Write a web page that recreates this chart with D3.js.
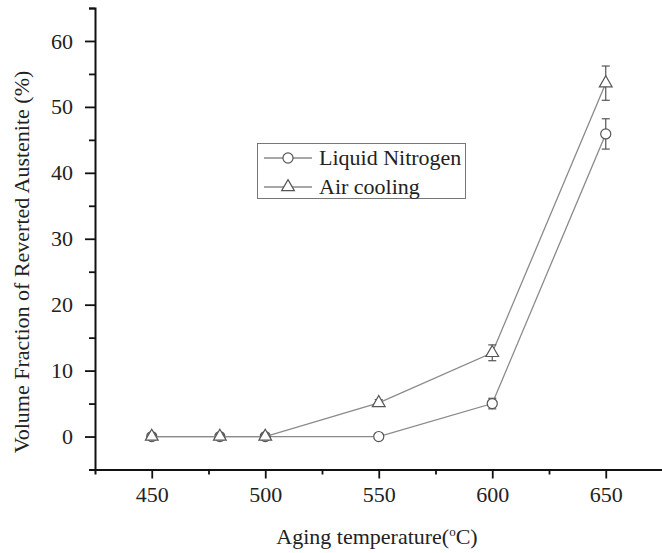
<!DOCTYPE html>
<html>
<head>
<meta charset="utf-8">
<script src="https://cdn.jsdelivr.net/npm/d3@7"></script>
<style>
  body { margin: 0; background: #fff; }
  svg text { font-family: 'Liberation Serif', 'Times New Roman', Times, 'DejaVu Serif', serif !important; }
</style>
</head>
<body>
<div class="chart"></div>
<script>
const temps = [450, 480, 500, 550, 600, 650];
const liquidNitrogen = [0, 0, 0, 0, 5, 45.9];
const liquidErr = [0.3, 0.3, 0.3, 0.3, 0.8, 2.3];
const airCooling = [0, 0, 0, 5.1, 12.7, 53.6];
const airErr = [0.3, 0.3, 0.3, 0.5, 1.2, 2.6];
const xTicks = [450, 500, 550, 600, 650];
const yTicks = [0, 10, 20, 30, 40, 50, 60];
const seriesNames = ['Liquid Nitrogen', 'Air cooling'];

const width = 662, height = 553;
const lineColor = '#8a8a8a', markColor = '#555';

const svg = d3.select('.chart').append('svg')
    .attr('width', width)
    .attr('height', height);

const x = d3.scaleLinear().domain([425, 675]).range([95, 662.5]);
const y = d3.scaleLinear().domain([-5, 65]).range([469.5, 8]);

// axes: minor ticks first, then major ticks with labels
const xAxis = svg.append('g').attr('transform', `translate(0, ${y(-5)})`);
xAxis.call(d3.axisBottom(x).tickValues(d3.range(475, 676, 50)).tickSize(5).tickFormat(''));
xAxis.append('g').call(d3.axisBottom(x).tickValues(xTicks).tickSize(9).tickPadding(8));
const yAxis = svg.append('g').attr('transform', `translate(${x(425)}, 0)`);
yAxis.call(d3.axisLeft(y).tickValues(d3.range(-5, 66, 10)).tickSize(6).tickFormat(''));
yAxis.append('g').call(d3.axisLeft(y).tickValues(yTicks).tickSize(10).tickPadding(12));

svg.selectAll('.domain').attr('stroke', '#111').attr('stroke-width', 2);
svg.selectAll('.tick line').attr('stroke', '#111').attr('stroke-width', 1.8);
svg.selectAll('.tick text')
    .attr('font-size', '22px')
    .attr('fill', '#222');
xAxis.selectAll('g > g .domain').remove();
yAxis.selectAll('g > g .domain').remove();

// titles
svg.append('text')
    .attr('x', 377).attr('y', 544)
    .attr('text-anchor', 'middle')
    .attr('font-size', '22px').attr('fill', '#222')
    .html('Aging temperature(<tspan dy="-8" font-size="13px">o</tspan><tspan dy="8">C)</tspan>');
svg.append('text')
    .attr('transform', `translate(29, ${262}) rotate(-90)`)
    .attr('text-anchor', 'middle')
    .attr('font-size', '22px').attr('fill', '#222')
    .text('Volume Fraction of Reverted Austenite (%)');

const line = d3.line().x(d => x(d[0])).y(d => y(d[1]));

const drawSeries = (vals, errs, shape) => {
    const pts = temps.map((t, i) => [t, vals[i], errs[i]]);
    svg.append('path').datum(pts)
        .attr('d', line)
        .attr('fill', 'none')
        .attr('stroke', lineColor)
        .attr('stroke-width', 1.3);
    // error bars
    const eb = svg.append('g').attr('stroke', markColor).attr('stroke-width', 1.2);
    pts.forEach(p => {
        eb.append('line').attr('x1', x(p[0])).attr('x2', x(p[0]))
            .attr('y1', y(p[1] - p[2])).attr('y2', y(p[1] + p[2]));
        [p[1] - p[2], p[1] + p[2]].forEach(v => {
            eb.append('line').attr('x1', x(p[0]) - 4).attr('x2', x(p[0]) + 4)
                .attr('y1', y(v)).attr('y2', y(v));
        });
    });
    svg.append('g').selectAll('path').data(pts).join('path')
        .attr('transform', d => `translate(${x(d[0])}, ${y(d[1])})`)
        .attr('d', d3.symbol().type(shape).size(shape === d3.symbolCircle ? 80 : 70))
        .attr('fill', '#fff')
        .attr('stroke', markColor)
        .attr('stroke-width', 1.2);
};

drawSeries(liquidNitrogen, liquidErr, d3.symbolCircle);
drawSeries(airCooling, airErr, d3.symbolTriangle);

// legend
const legend = svg.append('g');
legend.append('rect')
    .attr('x', 257.5).attr('y', 143.5).attr('width', 208).attr('height', 55)
    .attr('fill', '#fff').attr('stroke', '#777').attr('stroke-width', 1);
[d3.symbolCircle, d3.symbolTriangle].forEach((shape, i) => {
    const ly = 158 + i * 29;
    legend.append('line').attr('x1', 264).attr('x2', 312).attr('y1', ly).attr('y2', ly)
        .attr('stroke', lineColor).attr('stroke-width', 1.3);
    legend.append('path')
        .attr('transform', `translate(288, ${ly})`)
        .attr('d', d3.symbol().type(shape).size(shape === d3.symbolCircle ? 80 : 70))
        .attr('fill', '#fff').attr('stroke', markColor).attr('stroke-width', 1.2);
    legend.append('text')
        .attr('x', 319).attr('y', ly + 7)
        .attr('font-size', '22px').attr('fill', '#222')
        .text(seriesNames[i]);
});
</script>
</body>
</html>
